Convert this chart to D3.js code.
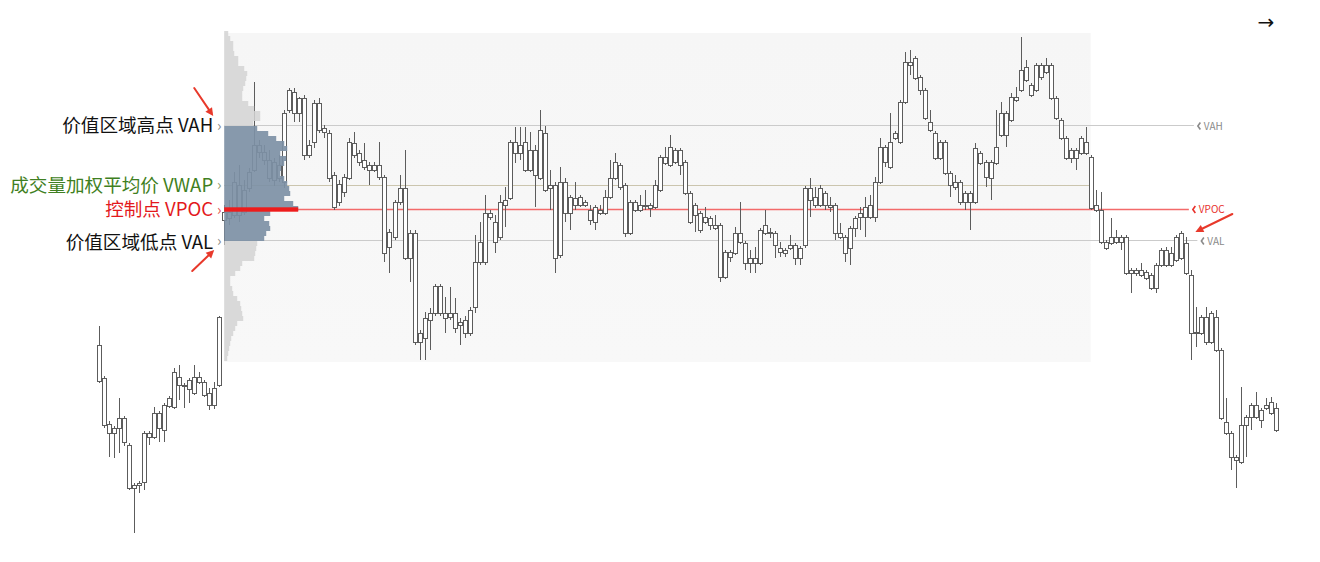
<!DOCTYPE html>
<html><head><meta charset="utf-8">
<script src="https://cdn.jsdelivr.net/npm/d3@7"></script>
<style>
html,body{margin:0;padding:0;background:#fff;}
svg{display:block;}
</style></head><body>
<svg id="c" width="1320" height="562"></svg>
<script>
// ---------- DATA ----------
const open = [
255,222,176,167,172,182,155,112,115,118,
167,163,187,170,194,193,223,215,211,207,
223,218,207,195,215,380,388,385,415,388,
412,430,455,448,440,420,435,418,490,508,
502,502,445,458,497,472,467,425,398,408,
422,457,447,440,435,430,435,423,353,363,
398,412,342,367,258,262,280,287,314,287,
283,287,275,280,267,293,338,338,383,378,
363,395,402,458,447,458,430,450,422,467,
412,415,345,418,387,402,395,398,390,393,
387,387,403,422,435,415,367,398,395,395,
392,393,410,437,435,450,450,438,407,385,
387,378,382,375,375,323,348,347,358,357,
337,342,337,367,368,367,352,347,352,355,
342,355,412,395,412,395,395,395,367,363,
352,372,383,383,383,383,418,453,433,462,
458,498,535,542,523,510,478,467,442,458,
427,418,418,398,407,398,447,438,438,437,
465,487,480,503,510,520,515,510,535,528,
535,502,480,462,442,450,447,447,443,395,
390,358,357,363,358,363,327,330,325,328,
325,312,335,335,335,340,367,357,325,267,
267,283,258,283,250,178,167,143,138,175,
183,195,190,192,187,192];
const high = [
274,224,179,174,202,184,157,117,119,169,
169,193,189,197,204,232,235,217,222,235,
228,220,212,218,284,395,400,428,435,420,
432,518,460,455,450,442,445,490,512,512,
503,505,460,500,502,475,470,428,420,426,
462,468,450,457,438,438,458,425,371,400,
425,450,370,370,270,288,292,316,316,303,
313,302,282,284,293,365,378,405,390,385,
405,413,460,473,473,473,468,455,490,474,
430,418,433,422,405,418,405,400,395,395,
395,410,440,447,437,417,400,400,405,410,
397,420,445,453,465,452,452,440,409,397,
389,393,384,385,377,350,350,373,398,359,
350,353,372,390,372,369,358,352,365,357,
354,414,422,413,415,409,403,397,377,365,
374,384,393,403,405,423,462,455,487,469,
500,548,550,544,525,512,490,469,460,460,
429,425,420,409,409,457,449,440,440,490,
498,489,507,513,563,540,517,537,537,542,
537,504,482,464,452,452,464,473,445,410,
408,360,382,370,365,365,332,332,337,330,
327,337,352,353,353,365,369,363,330,293,
285,293,289,290,252,202,169,145,213,185,
197,208,192,202,203,197];
const low = [
217,172,143,142,147,154,110,67,107,110,
155,161,158,158,192,191,200,192,197,205,
216,203,190,191,213,355,375,382,378,385,
408,428,442,435,418,414,418,412,487,478,
478,440,442,452,467,462,418,390,394,403,
420,442,434,430,415,428,420,338,327,360,
395,340,318,255,240,240,250,284,284,267,
280,267,255,262,264,287,335,335,380,347,
360,373,400,437,440,428,428,393,420,408,
390,327,342,378,370,390,393,393,375,370,
385,385,401,420,410,363,365,388,388,390,
383,391,408,435,433,436,425,405,376,368,
367,376,370,370,318,321,338,345,356,330,
327,327,335,365,362,342,343,343,350,335,
335,352,383,392,393,390,388,360,361,338,
335,363,370,363,381,378,416,433,431,460,
456,496,525,520,505,480,468,440,440,425,
403,410,395,390,370,396,435,413,400,435,
463,453,478,498,508,518,503,508,520,526,
500,480,460,440,437,430,445,445,390,388,
356,350,355,356,350,325,307,324,323,320,
310,307,333,333,333,338,340,325,240,253,
265,255,256,248,180,165,130,112,136,143,
170,181,172,190,185,168];
const close = [
219,175,167,172,182,158,112,115,117,167,
163,187,172,195,202,228,215,214,220,223,
218,205,195,212,283,388,382,418,385,410,
428,455,448,440,422,438,422,487,510,487,
487,445,455,497,470,468,422,393,416,423,
458,445,438,433,430,435,423,347,368,398,
412,342,367,258,267,282,287,314,287,282,
287,272,278,267,290,338,358,387,387,358,
398,400,458,447,455,430,450,425,470,410,
415,342,418,387,403,395,403,395,380,378,
390,403,422,438,413,367,398,390,390,394,
395,415,443,443,453,438,435,407,378,395,
370,383,375,372,323,348,343,367,367,337,
342,337,370,375,367,355,348,350,355,342,
352,412,400,403,395,407,393,367,363,347,
372,382,387,393,395,418,453,438,458,467,
498,538,538,522,510,482,470,442,458,427,
415,413,398,407,398,452,437,423,422,453,
487,465,503,500,530,533,505,535,523,535,
502,482,462,442,450,442,462,458,392,390,
358,352,363,358,363,327,330,327,330,322,
312,335,350,350,347,363,342,327,267,268,
283,258,287,250,182,167,143,140,175,183,
195,183,180,195,198,170];

// volume profile (top price bin downward)
const profileTopPrice = 569;
const profileBin = 5;
const profileVolume = [
4,6,9,9,10,14,14,20,23,22,21,19,18,18,24,30,36,36,29,
33,44,52,60,63,56,62,60,57,56,60,63,65,66,60,69,74,46,40,45,46,42,40,
33,32,31,30,18,16,11,6,6,8,9,13,16,17,18,19,13,11,9,7,6,5,4,3];

// session window (candle indices) and key levels
const sessionStart = 25, sessionEnd = 198;
const vah = 474, vwap = 415, vpoc = 390.5, val = 359;
const leftLabels = ["价值区域高点 VAH", "成交量加权平均价 VWAP", "控制点 VPOC", "价值区域低点 VAL"];
const rightLabels = ["VAH", "VPOC", "VAL"];

// ---------- DRAW ----------
const svg = d3.select("#c");
const N = close.length;
const x = d3.scaleLinear().domain([0, N - 1]).range([99, 1276]);
const y = d3.scaleLinear().domain([0, 600]).range([600, 0]);
const vx = d3.scaleLinear().domain([0, 100]).range([0, 100]);

const px = x(sessionStart), px2 = x(sessionEnd);

// session panel (soft)
const defs = svg.append("defs");
const lg = defs.append("linearGradient").attr("id", "pg").attr("x1", 0).attr("x2", 0).attr("y1", 0).attr("y2", 1);
lg.append("stop").attr("offset", "0%").attr("stop-color", "#f6f6f6");
lg.append("stop").attr("offset", "100%").attr("stop-color", "#f8f8f8");
svg.append("rect").attr("x", px).attr("y", y(567)).attr("width", px2 - px)
  .attr("height", y(238) - y(567)).attr("fill", "url(#pg)");

// level lines
const lines = [
  {p: vah, end: x(218.6), color: "#cbcbcb", w: 1},
  {p: vwap, end: px2, color: "#cbc5ae", w: 1},
  {p: vpoc, end: x(217.6), color: "#f36a6a", w: 1.6},
  {p: val, end: x(219.3), color: "#cbcbcb", w: 1}
];
svg.append("g").selectAll("line").data(lines).join("line")
  .attr("x1", px).attr("x2", d => d.end)
  .attr("y1", d => d.w > 1 ? y(d.p) : Math.floor(y(d.p)) + 0.5)
  .attr("y2", d => d.w > 1 ? y(d.p) : Math.floor(y(d.p)) + 0.5)
  .attr("stroke", d => d.color).attr("stroke-width", d => d.w);

// candles
const cg = svg.append("g");
const idx = d3.range(N);
cg.selectAll("line").data(idx).join("line")
  .attr("x1", i => Math.round(x(i)) + 0.5).attr("x2", i => Math.round(x(i)) + 0.5)
  .attr("y1", i => y(Math.max(high[i], open[i], close[i])))
  .attr("y2", i => y(Math.min(low[i], open[i], close[i])))
  .attr("stroke", "#5c5c5c").attr("stroke-width", 1);
cg.selectAll("rect").data(idx).join("rect")
  .attr("x", i => Math.round(x(i)) - 1.5)
  .attr("width", 4)
  .attr("y", i => y(Math.max(open[i], close[i])) + 0.5)
  .attr("height", i => Math.max(1, Math.abs(y(open[i]) - y(close[i]))))
  .attr("fill", "#fff").attr("stroke", "#5c5c5c").attr("stroke-width", 1);

// volume profile
const inVA = i => {
  const top = profileTopPrice - i * profileBin;
  return top <= vah && top - profileBin >= val;
};
svg.append("g").selectAll("rect").data(profileVolume).join("rect")
  .attr("x", px)
  .attr("y", (v, i) => y(profileTopPrice - i * profileBin))
  .attr("width", v => vx(v))
  .attr("height", y(0) - y(profileBin))
  .attr("fill", (v, i) => inVA(i) ? "#7d90a5" : "#d3d3d3")
  .attr("fill-opacity", (v, i) => inVA(i) ? 0.92 : 0.85);
// VPOC bar
const maxVol = d3.max(profileVolume);
svg.append("rect").attr("x", px).attr("y", y(vpoc) - 2.2)
  .attr("width", vx(maxVol)).attr("height", 4.4).attr("fill", "#ee1c1c");

// left labels
const FONT = "'Noto Sans CJK SC','Noto Sans',sans-serif";
const lColors = ["#111111", "#3f7f22", "#e3191c", "#111111"];
const lLevels = [vah, vwap, vpoc, val];
const lOff = [-1, 0, 0, 1];
svg.append("g").selectAll("text").data(leftLabels).join("text")
  .attr("x", px - 11).attr("y", (d, i) => y(lLevels[i]) + lOff[i])
  .attr("dy", "0.35em").attr("text-anchor", "end")
  .attr("font-family", FONT).attr("font-size", 18.6)
  .attr("fill", (d, i) => lColors[i]).text(d => d);
const chevColors = ["#8a8a8a", "#8f9a70", "#e05050", "#8a8a8a"];
svg.append("g").selectAll("text").data(lLevels).join("text")
  .attr("x", px - 5).attr("y", d => y(d))
  .attr("dy", "0.35em").attr("text-anchor", "middle")
  .attr("font-family", FONT).attr("font-size", 15)
  .attr("fill", (d, i) => chevColors[i]).text("›");

// right labels
const rl = [
  {t: rightLabels[0], p: vah, x0: x(218.6), c: "#8a8a8a"},
  {t: rightLabels[1], p: vpoc, x0: x(217.6), c: "#e8302a"},
  {t: rightLabels[2], p: val, x0: x(219.3), c: "#8a8a8a"}
];
const rg = svg.append("g");
rg.selectAll("path").data(rl).join("path")
  .attr("d", d => { const cx = d.x0 + 4, cy = y(d.p); return `M${cx + 2.5},${cy - 3.5}L${cx},${cy}L${cx + 2.5},${cy + 3.5}`; })
  .attr("fill", "none").attr("stroke", d => d.c).attr("stroke-width", 1.6);
rg.selectAll("text").data(rl).join("text")
  .attr("x", d => d.x0 + 10).attr("y", d => y(d.p))
  .attr("dy", "0.35em").attr("font-family", FONT).attr("font-size", 10)
  .attr("fill", d => d.c).text(d => d.t);

// red annotation arrows
function arrow(x1, y1, x2, y2) {
  const a = Math.atan2(y2 - y1, x2 - x1), L = 8, W = 4;
  const bx = x2 - L * Math.cos(a), by = y2 - L * Math.sin(a);
  svg.append("line").attr("x1", x1).attr("y1", y1).attr("x2", bx).attr("y2", by)
    .attr("stroke", "#e8392b").attr("stroke-width", 2).attr("stroke-linecap", "round");
  svg.append("path").attr("d", `M${x2},${y2}L${bx - W * Math.sin(a)},${by + W * Math.cos(a)}L${bx + W * Math.sin(a)},${by - W * Math.cos(a)}Z`)
    .attr("fill", "#e8392b");
}
const ex1 = px - 11, ey1 = y(vah) - 10;
arrow(ex1 - 19, ey1 - 28, ex1, ey1);
const ex2 = px - 10, ey2 = y(val) + 9;
arrow(ex2 - 22, ey2 + 21, ex2, ey2);
const ex3 = x(219.3) - 2, ey3 = y(val) - 9;
arrow(ex3 + 37, ey3 - 18, ex3, ey3);

// top-right arrow glyph
svg.append("text").attr("x", 1266).attr("y", 22).attr("dy", "0.35em")
  .attr("text-anchor", "middle").attr("font-family", "'DejaVu Sans',sans-serif")
  .attr("font-size", 20).attr("fill", "#111").text("→");
</script>
</body></html>
